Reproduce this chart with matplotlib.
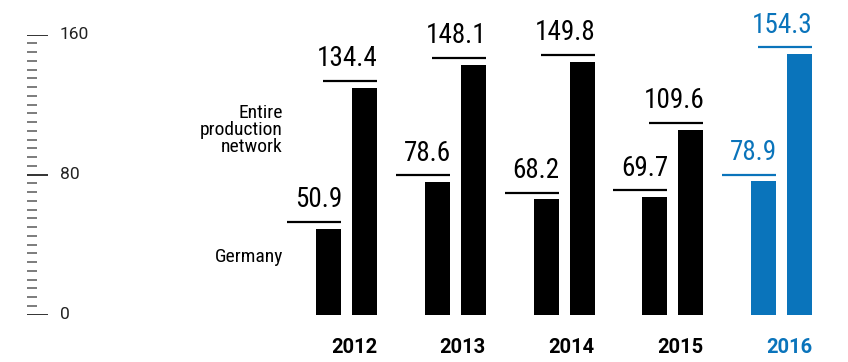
import numpy as np
import matplotlib
matplotlib.use("Agg")
import matplotlib.pyplot as plt

years = ["2012", "2013", "2014", "2015", "2016"]
germany = [50.9, 78.6, 68.2, 69.7, 78.9]
network = [134.4, 148.1, 149.8, 109.6, 154.3]
ruler_labels = [0, 80, 160]

black = "#000000"
blue = "#0a74bb"
colors = [black, black, black, black, blue]

narrow = ["Roboto Condensed", "DejaVu Sans"]
wide = ["Roboto", "DejaVu Sans"]

W, H = 848, 362
fig = plt.figure(figsize=(W / 100, H / 100), dpi=100)

# pixel geometry of the plot area (0 at y=314.5 px, 160 at y=34.5 px)
y0, y1 = 314.5, 34.5
rect = [0, 1 - y0 / H, 1, (y0 - y1) / H]

# ruler on the left
rax = fig.add_axes(rect)
rax.set_xlim(0, W)
rax.set_ylim(0, 160)
rax.axis("off")
for v in np.arange(0, 161, 5):
    if v in ruler_labels:
        rax.hlines(v, 27, 48, color="#111111", lw=1.2)
        rax.text(60, v, str(v), ha="left", va="center", fontsize=12.5,
                 family=wide, color="#222222")
    else:
        rax.hlines(v, 27, 37, color="#666666", lw=1.2)

# bars
ax = fig.add_axes(rect)
spacing = 108.75
x_center0 = 346.5
ax.set_xlim(-x_center0 / spacing, (W - x_center0) / spacing)
ax.set_ylim(0, 166)
ax.axis("off")

x = np.arange(len(years))
bw = 25 / spacing
off = 18 / spacing
line_len = 54 / spacing

for i, yr in enumerate(years):
    c = colors[i]
    for xc, v in [(x[i] - off, germany[i]), (x[i] + off, network[i])]:
        ax.bar(xc, v, width=bw, color=c)
        right = xc + bw / 2
        ax.hlines(v + 4, right - line_len, right, color=c, lw=1.6)
        ax.annotate(f"{v:.1f}", (right + 1 / spacing, v + 4), xytext=(0, 10.5),
                    textcoords="offset points", ha="right", va="baseline",
                    fontsize=19.5, family=narrow, color=c)
    ax.annotate(yr, (x[i] + off + bw / 2, 0), xytext=(0, -28),
                textcoords="offset points", ha="right", va="baseline",
                fontsize=14.5, fontweight="bold", family=wide, color=c)

fig.text(283 / W, 1 - 130 / H, "Entire\nproduction\nnetwork", ha="right",
         va="center", fontsize=14, family=narrow, linespacing=0.95)
fig.text(283 / W, 1 - 257 / H, "Germany", ha="right", va="center",
         fontsize=14, family=narrow)

fig.savefig("out.png", dpi=100)
